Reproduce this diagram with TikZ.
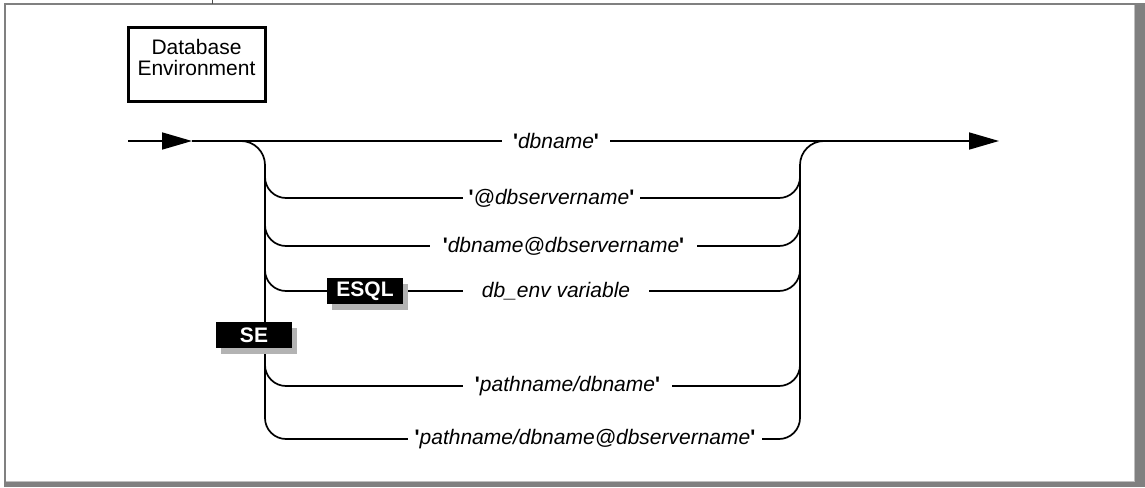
\documentclass[tikz,border=0pt]{standalone}
\usepackage{fontspec}
\setmainfont{Liberation Sans}
\usetikzlibrary{arrows.meta,positioning,shadows}
\definecolor{frame}{HTML}{808080}
\definecolor{shade}{HTML}{B3B3B3}
\newcommand{\qname}[1]{\textbf{\textquotesingle}\textit{#1}\textbf{\textquotesingle}}

\begin{document}
\begin{tikzpicture}[x=1pt,y=-1pt,font=\fontsize{21}{21}\selectfont,
  rail/.style={line width=1.7pt},
  lbl/.style={inner xsep=0pt,inner ysep=2pt},
  tag/.style={fill=black,text=white,font=\fontsize{21}{21}\selectfont\bfseries,
    minimum width=76pt,minimum height=26pt,inner sep=0pt,
    drop shadow={shadow xshift=5pt,shadow yshift=-6pt,fill=shade,opacity=1}},
  titlebox/.style={draw,line width=3pt,align=center,minimum width=137pt,
    minimum height=73pt,inner sep=0pt}]
  \useasboundingbox (0,0) rectangle (1145,487);

  % Frame
  \fill[frame] (4,3) rectangle (1145,487);
  \fill[white] (6,5) rectangle (1135,481);
  \draw[black!25,line width=0.8pt] (1134,5) -- (1134,481) -- (6,481);
  \draw[black!70,line width=0.8pt] (212,0) -- (212,4);

  % Title
  \node[titlebox] (title) at (196.5,64.5) {};
  \node[align=center,inner sep=0pt] (titletext) at (196.5,57) {Database\\Environment};

  % Labels
  \coordinate (start) at (128,141);
  \coordinate (tip) at (192,141);
  \coordinate (end) at (999,141);
  \node[lbl,minimum width=108pt] (dbname) at (556,141) {\qname{dbname}};
  \node[lbl,minimum width=177pt] (server) at (551.5,198) {\qname{@dbservername}};
  \node[lbl,minimum width=267pt] (both) at (563.5,246) {\qname{dbname@dbservername}};
  \node[tag] (esql) at (365,291) {ESQL};
  \node[lbl,minimum width=186pt] (dbenv) at (556,291) {\textit{db\_env variable}};
  \node[lbl,minimum width=209pt] (path) at (567.5,386) {\qname{pathname/dbname}};
  \node[lbl,minimum width=354pt] (pathserver) at (585,439) {\qname{pathname/dbname@dbservername}};

  % Main rail
  \draw[rail,-{Triangle[length=30pt,width=17pt]}] (start) -- (tip);
  \draw[rail] (tip) -- (dbname.west);
  \draw[rail,-{Triangle[length=30pt,width=17pt]}] (dbname.east) -- (end);

  % Branches
  \draw[rail,rounded corners=24pt] (215,141) -| (265,418);
  \draw[rail,rounded corners=24pt] (800,418) |- (850,141);
  \foreach \n/\y in {server/198,both/246,path/386,pathserver/439} {
    \draw[rail,rounded corners=21pt] (265,\y-30) |- (\n.west);
    \draw[rail,rounded corners=21pt] (\n.east) -| (800,\y-30);
  }
  \draw[rail,rounded corners=21pt] (265,261) |- (esql.west);
  \draw[rail] ([xshift=5pt]esql.east) -- (dbenv.west);
  \draw[rail,rounded corners=21pt] (dbenv.east) -| (800,261);

  \node[tag] (se) at (254,335) {SE};
\end{tikzpicture}
\end{document}
